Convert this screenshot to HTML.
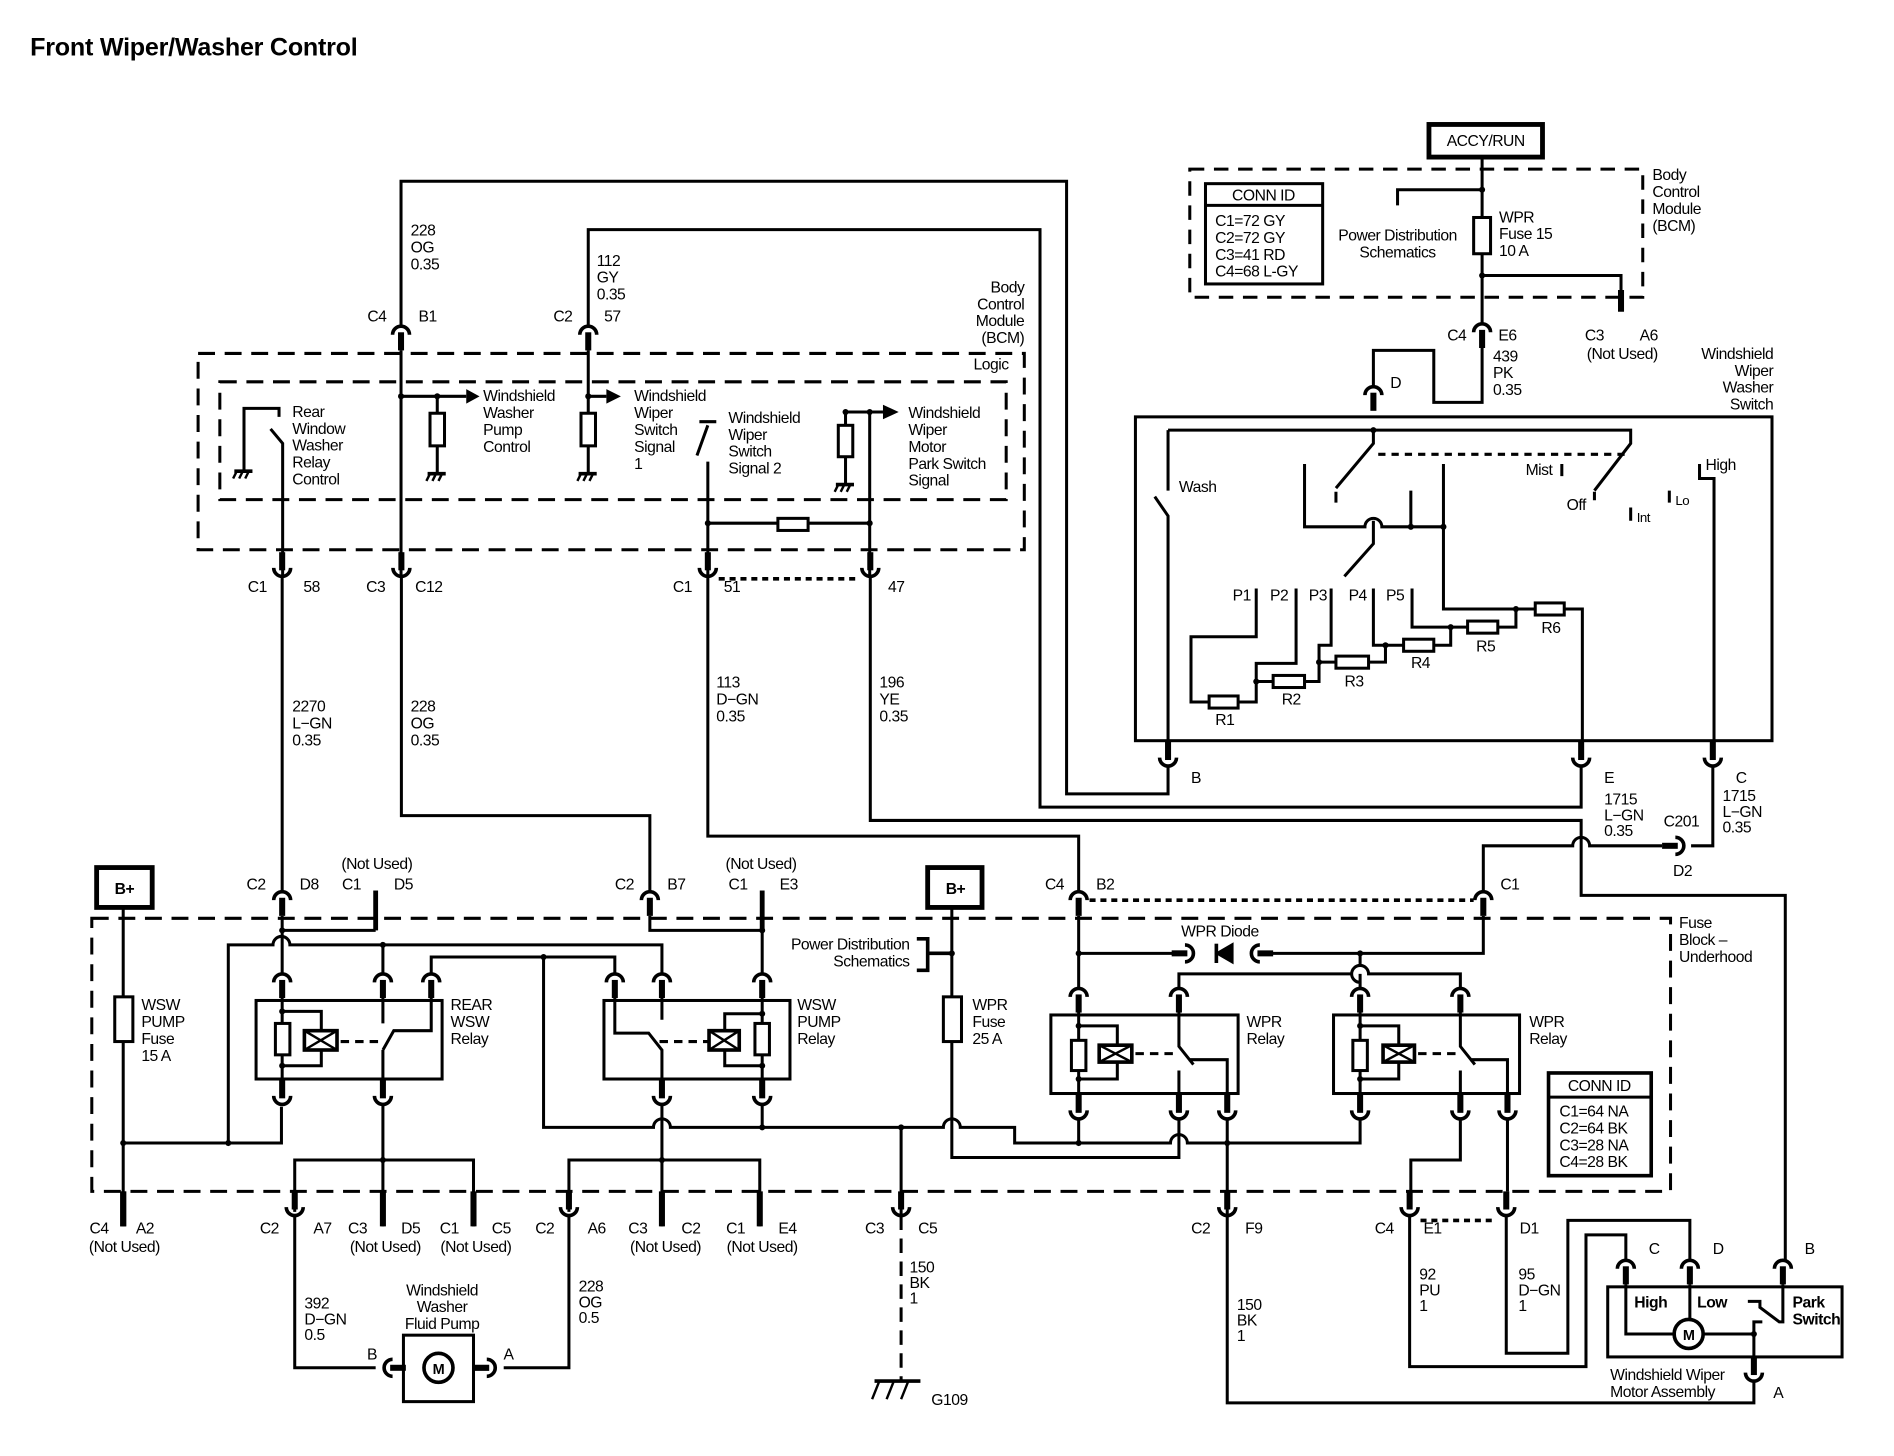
<!DOCTYPE html>
<html><head><meta charset="utf-8"><style>
html,body{margin:0;padding:0;background:#fff;}
svg{display:block;}
text{font-family:"Liberation Sans",sans-serif;font-size:13px;fill:#000;letter-spacing:-0.4px;}
.m{text-anchor:middle}.e{text-anchor:end}
</style></head><body>
<svg width="1894" height="1456" viewBox="0 0 1568 1205" preserveAspectRatio="none" xmlns="http://www.w3.org/2000/svg">
<defs>
<g id="cap" fill="none" stroke="#000"><path d="M-7,7 A7,7 0 0 1 7,7" stroke-width="3"/><line x1="0" y1="5" x2="0" y2="20" stroke-width="5"/></g>
<g id="cup" fill="none" stroke="#000"><path d="M-7,-7 A7,7 0 0 0 7,-7" stroke-width="3"/><line x1="0" y1="-5" x2="0" y2="-20" stroke-width="5"/></g>
<g id="gnd" fill="none" stroke="#000" stroke-width="2"><line x1="-8" y1="0" x2="7" y2="0" stroke-width="3"/><line x1="-6" y1="0" x2="-9" y2="6"/><line x1="-1" y1="0" x2="-4" y2="6"/><line x1="4" y1="0" x2="1" y2="6"/></g>
<g id="lft" fill="none" stroke="#000"><path d="M7,-7 A7,7 0 0 0 7,7" stroke-width="3"/><line x1="5" y1="0" x2="18" y2="0" stroke-width="5"/></g>
<g id="rgt" fill="none" stroke="#000"><path d="M-7,-7 A7,7 0 0 1 -7,7" stroke-width="3"/><line x1="-5" y1="0" x2="-18" y2="0" stroke-width="5"/></g>
</defs>
<rect width="1568" height="1205" fill="#fff"/>
<text x="25" y="46" style="font-size:20.8px;font-weight:bold;letter-spacing:-0.2px">Front Wiper/Washer Control</text>

<g fill="none" stroke="#000" stroke-width="2.5">
<rect x="1183" y="103" width="94" height="27" stroke-width="4"/>
<rect x="985" y="140" width="375" height="106" stroke-dasharray="12 8" stroke-width="2.5"/>
<rect x="998" y="152" width="97" height="83" stroke-width="2.5"/>
<line x1="998" y1="170" x2="1095" y2="170"/>
<path d="M1227,130 V268 M1157,170 V157 H1227 M1227,228 H1342 V243"/>
<line x1="1342" y1="240" x2="1342" y2="258" stroke-width="5"/>
<rect x="1220" y="180" width="14" height="30" fill="#fff"/>
<use href="#cap" x="1227" y="268"/>
<path d="M1227,288 V333 H1187 V290 H1137 V320"/>
<use href="#cap" x="1137" y="320"/>

<rect x="940" y="345" width="527" height="268"/>
<path d="M967,356 V406 M956,411 L967,427 V614"/>
<path d="M967,356 H1350 V367 L1320,406 M1320,407 V414"/>
<path d="M1137,356 V367 L1106,404 M1106,407 V416"/>
<line x1="1141" y1="376" x2="1345" y2="376" stroke-dasharray="6 5"/>
<path d="M1293,384 V394 M1350,420 V431 M1382,406 V416 M1407,384 V396 H1419 V614"/>
<path d="M1080,384 V436 H1130 A7,7 0 0 1 1144,436 H1195 M1168,406 V436 M1195,384 V504 H1271 M1295,504 H1310 V614"/>
<path d="M1137,431 V450 L1113,477"/>
<path d="M1040,487 V527 H986 V581 H1001 M1025,581 H1040 V549 H1073 V487 M1040,564 H1054 M1080,564 H1092 V534 H1102 V487 M1092,548 H1106 M1133,548 H1147 V534 H1137 V487 M1147,534 H1162 M1187,534 H1201 V519 H1169 V487 M1201,519 H1215 M1240,519 H1255 V504"/>
<rect x="1001" y="576" width="24" height="10" fill="#fff"/>
<rect x="1054" y="559" width="26" height="10" fill="#fff"/>
<rect x="1106" y="543" width="27" height="10" fill="#fff"/>
<rect x="1162" y="529" width="25" height="10" fill="#fff"/>
<rect x="1215" y="514" width="25" height="10" fill="#fff"/>
<rect x="1271" y="499" width="24" height="10" fill="#fff"/>
<use href="#cup" x="967" y="634"/><use href="#cup" x="1309" y="634"/><use href="#cup" x="1418" y="634"/>

<path d="M332,270 V150 H883 V657 H967 V634"/>
<path d="M487,270 V190 H861 V668 H1309 V634"/>
<path d="M1418,634 V700 H1400"/>
<use href="#rgt" x="1394" y="700"/>
<path d="M1376,700 H1316 A7,7 0 0 0 1302,700 H1228 V738"/>
<path d="M720.5,476 V679 H1309 V741 H1478 V1043"/>
<path d="M586,476 V692 H893 V738"/>
<path d="M332.3,476 V675 H538 V738"/>
<path d="M233.6,476 V738"/>

<rect x="164" y="292.5" width="684" height="162.5" stroke-dasharray="14 8"/>
<rect x="182" y="316" width="651" height="97.5" stroke-dasharray="14 8"/>
<use href="#cap" x="332" y="270"/><use href="#cap" x="487" y="270"/>
<path d="M332,290 V476 M487,290 V392 M332,328 H386 M362,328 V392 M487,328 H502"/>
<path d="M202,389 V338 H231 V345 M224,355 L234,367 V476"/>
<path d="M586,476 V382 M577,377 L586,352 M579,349 H593"/>
<path d="M586,433 H720 M720,476 V341 M700,341 H731 M700,341 V401"/>
<rect x="356" y="342" width="12" height="27" fill="#fff"/>
<rect x="481" y="342" width="12" height="27" fill="#fff"/>
<rect x="694" y="352" width="12" height="26" fill="#fff"/>
<rect x="644" y="429" width="25" height="10" fill="#fff"/>
<use href="#gnd" x="202" y="390"/><use href="#gnd" x="362" y="392"/><use href="#gnd" x="487" y="392"/><use href="#gnd" x="700" y="401"/>
<use href="#cup" x="233.6" y="477"/><use href="#cup" x="332.3" y="477"/><use href="#cup" x="586" y="477"/><use href="#cup" x="720.5" y="477"/>
<line x1="595" y1="479" x2="712" y2="479" stroke-width="3" stroke-dasharray="5 4"/>

<rect x="76" y="760" width="1307" height="226" stroke-dasharray="14 8"/>
<rect x="80" y="718" width="46" height="33" stroke-width="4"/>
<rect x="768" y="718" width="45" height="33" stroke-width="4"/>
<use href="#cap" x="233.6" y="738"/><use href="#cap" x="538" y="738"/><use href="#cap" x="893" y="738"/><use href="#cap" x="1228" y="738"/>
<line x1="311" y1="737" x2="311" y2="770" stroke-width="4"/>
<line x1="631" y1="737" x2="631" y2="770" stroke-width="4"/>
<line x1="902" y1="745" x2="1220" y2="745" stroke-width="3" stroke-dasharray="5 4"/>
<path d="M102,751 V1015 M102,946 H233 V916 M189,946 V782 H226 A7,7 0 0 1 240,782 H548 V806"/>
<line x1="102" y1="986" x2="102" y2="1015" stroke-width="5"/>
<rect x="95" y="825" width="15" height="37" fill="#fff"/>
<path d="M233.6,758 V806 M233.6,770 H311 M317,782 V806 M357,806 V792 H509 V806 M450,792 V933 H541 A7,7 0 0 1 555,933 H781 A7,7 0 0 1 795,933 H840 V946 H969 A7,7 0 0 1 983,946 H1126 V926"/>
<path d="M538,758 V770 H631 V806 M631,758 V770"/>
<rect x="212" y="828" width="154" height="65"/>
<use href="#cap" x="233.6" y="806"/><use href="#cap" x="317" y="806"/><use href="#cap" x="357" y="806"/>
<path d="M233.6,826 V893 M233.6,837 H266 V853 M266,869 V882 H233.6"/>
<rect x="228" y="847" width="12" height="26" fill="#fff"/>
<rect x="252" y="853" width="27" height="16" stroke-width="3" fill="#fff"/>
<path d="M252,853 L279,869 M279,853 L252,869" stroke-width="2"/>
<line x1="282" y1="862" x2="316" y2="862" stroke-dasharray="7 5"/>
<path d="M317,826 V847 M317,869 L326,853 H357 V826 M317,869 V893"/>
<use href="#cup" x="233.6" y="914"/><use href="#cup" x="317" y="914"/>
<path d="M317,914 V1015 M244,1003 V960 H392 V1015"/>
<rect x="500" y="828" width="154" height="65"/>
<use href="#cap" x="509" y="806"/><use href="#cap" x="548" y="806"/><use href="#cap" x="631" y="806"/>
<path d="M509,826 V855 H537 L548,869 V893 M548,826 V844"/>
<line x1="546" y1="862" x2="586" y2="862" stroke-dasharray="7 5"/>
<path d="M631,826 V893 M631,839 H600 V853 M600,869 V882 H631"/>
<rect x="625" y="847" width="12" height="26" fill="#fff"/>
<rect x="587" y="853" width="25" height="16" stroke-width="3" fill="#fff"/>
<path d="M587,853 L612,869 M612,853 L587,869" stroke-width="2"/>
<use href="#cup" x="548" y="914"/><use href="#cup" x="631" y="914"/>
<path d="M548,914 V1015 M631,914 V933 M471,1003 V960 H629 V1015"/>
<line x1="317" y1="986" x2="317" y2="1015" stroke-width="5"/>
<line x1="392" y1="986" x2="392" y2="1015" stroke-width="5"/>
<line x1="548" y1="986" x2="548" y2="1015" stroke-width="5"/>
<line x1="629" y1="986" x2="629" y2="1015" stroke-width="5"/>
<use href="#cup" x="244" y="1006"/><use href="#cup" x="471" y="1006"/><use href="#cup" x="746" y="1006"/><use href="#cup" x="1016" y="1006"/><use href="#cup" x="1167" y="1006"/><use href="#cup" x="1247" y="1006"/>
<line x1="1176" y1="1010" x2="1238" y2="1010" stroke-width="3" stroke-dasharray="5 4"/>
<path d="M788,751 V958 H976 V926"/>
<rect x="781" y="825" width="15" height="37" fill="#fff"/>
<path d="M759,777 H768 V803 H759 M768,789 H788" stroke-width="3"/>
<path d="M746,933 V1006"/>
<path d="M893,758 V818 M893,789 H979 M1052,789 H1228 V758 M1126,789 V799 A7,7 0 0 0 1126,813 M976,818 V806 H1119 A7,7 0 0 1 1133,806 H1209 V818 M1126,806 V818"/>
<use href="#rgt" x="988" y="789"/><use href="#lft" x="1036" y="789"/>
<line x1="1007" y1="781" x2="1007" y2="797" stroke-width="3"/>
<path d="M1008,789 L1020,782 L1020,796 Z" fill="#000"/>
<rect x="870" y="840" width="155" height="65"/>
<use href="#cap" x="893" y="818"/><use href="#cap" x="976" y="818"/>
<path d="M893,838 V905 M893,849 H925 V865 M925,879 V893 H893"/>
<rect x="887" y="861" width="12" height="25" fill="#fff"/>
<rect x="910" y="865" width="27" height="14" stroke-width="3" fill="#fff"/>
<path d="M910,865 L937,879 M937,865 L910,879" stroke-width="2"/>
<line x1="940" y1="872" x2="974" y2="872" stroke-dasharray="7 5"/>
<path d="M976,838 V866 L988,881 M976,886 V905 M984,877 H1016 V905"/>
<use href="#cup" x="893" y="926"/><use href="#cup" x="976" y="926"/><use href="#cup" x="1016" y="926"/>
<path d="M893,926 V946 M1016,926 V1006"/>
<rect x="1104" y="840" width="154" height="65"/>
<use href="#cap" x="1126" y="818"/><use href="#cap" x="1209" y="818"/>
<path d="M1126,838 V905 M1126,849 H1158 V865 M1158,879 V893 H1126"/>
<rect x="1120" y="861" width="12" height="25" fill="#fff"/>
<rect x="1145" y="865" width="26" height="14" stroke-width="3" fill="#fff"/>
<path d="M1145,865 L1171,879 M1171,865 L1145,879" stroke-width="2"/>
<line x1="1174" y1="872" x2="1207" y2="872" stroke-dasharray="7 5"/>
<path d="M1209,838 V866 L1221,881 M1209,886 V905 M1217,877 H1248 V905"/>
<use href="#cup" x="1126" y="926"/><use href="#cup" x="1209" y="926"/><use href="#cup" x="1248" y="926"/>
<path d="M1209,926 V960 H1168 V986 M1248,926 V986"/>
<rect x="1282" y="888" width="85" height="85" stroke-width="3"/>
<line x1="1282" y1="908" x2="1367" y2="908"/>
<path d="M1016,1006 V1161 H1452 V1143"/>
<path d="M1167,1006 V1131 H1313 V1022 H1346 V1043 M1247,1006 V1120 H1298 V1010 H1399 V1043"/>
<rect x="1331" y="1065" width="194" height="58"/>
<use href="#cap" x="1346" y="1043"/><use href="#cap" x="1399" y="1043"/><use href="#cap" x="1476" y="1043"/>
<path d="M1346,1063 V1104 H1386 M1399,1063 V1092 M1410,1104 H1452 V1123 M1452,1104 V1094 H1459 M1447,1077 H1457 V1082 L1473,1094 H1476 V1063"/>
<circle cx="1398" cy="1104" r="12" stroke-width="3" fill="#fff"/>
<use href="#cup" x="1452" y="1143"/>
<path d="M244,1006 V1132 H311 M417,1132 H471 V1006"/>
<use href="#lft" x="318" y="1132"/><use href="#rgt" x="410" y="1132"/>
<rect x="334" y="1105" width="58" height="55"/>
<circle cx="363" cy="1132" r="12" stroke-width="3" fill="#fff"/>
<line x1="746" y1="1006" x2="746" y2="1142" stroke-dasharray="12 7"/>
<line x1="724" y1="1143" x2="762" y2="1143" stroke-width="3"/>
<path d="M728,1143 L722,1158 M740,1143 L734,1158 M752,1143 L746,1158" stroke-width="2"/>
<line x1="102" y1="986" x2="102" y2="1015" stroke-width="5"/>
</g>
<g fill="#000"><path d="M386,322 L397,328 L386,334 Z"/><path d="M502,322 L514,328 L502,334 Z"/><path d="M731,335 L744,341 L731,347 Z"/></g>
<g fill="#000">
<circle cx="1227" cy="157" r="2.5"/><circle cx="1227" cy="228" r="2.5"/><circle cx="1137" cy="356" r="2.5"/>
<circle cx="1168" cy="436" r="2.5"/><circle cx="1195" cy="436" r="2.5"/><circle cx="1255" cy="504" r="2.5"/><circle cx="1201" cy="519" r="2.5"/><circle cx="1147" cy="534" r="2.5"/><circle cx="1092" cy="548" r="2.5"/><circle cx="1040" cy="564" r="2.5"/>
<circle cx="332" cy="328" r="2.5"/><circle cx="362" cy="328" r="2.5"/><circle cx="487" cy="328" r="2.5"/><circle cx="586" cy="433" r="2.5"/><circle cx="720" cy="433" r="2.5"/><circle cx="720" cy="341" r="2.5"/><circle cx="700" cy="341" r="2.5"/>
<circle cx="233.6" cy="770" r="2.5"/><circle cx="631" cy="770" r="2.5"/><circle cx="317" cy="782" r="2.5"/><circle cx="450" cy="792" r="2.5"/><circle cx="102" cy="946" r="2.5"/><circle cx="189" cy="946" r="2.5"/>
<circle cx="233.6" cy="837" r="2.5"/><circle cx="233.6" cy="882" r="2.5"/><circle cx="631" cy="839" r="2.5"/><circle cx="631" cy="882" r="2.5"/>
<circle cx="317" cy="960" r="2.5"/><circle cx="548" cy="960" r="2.5"/><circle cx="631" cy="933" r="2.5"/><circle cx="746" cy="933" r="2.5"/><circle cx="788" cy="789" r="2.5"/>
<circle cx="893" cy="789" r="2.5"/><circle cx="1126" cy="789" r="2.5"/><circle cx="893" cy="849" r="2.5"/><circle cx="893" cy="893" r="2.5"/><circle cx="1126" cy="849" r="2.5"/><circle cx="1126" cy="893" r="2.5"/>
<circle cx="893" cy="946" r="2.5"/><circle cx="1016" cy="946" r="2.5"/><circle cx="1452" cy="1104" r="2.5"/>
</g>

<text x="1230" y="121" class="m">ACCY/RUN</text>
<text x="1046" y="166" class="m">CONN ID</text>
<text x="1006" y="187">C1=72 GY<tspan x="1006" dy="14">C2=72 GY</tspan><tspan x="1006" dy="14">C3=41 RD</tspan><tspan x="1006" dy="14">C4=68 L-GY</tspan></text>
<text x="1157" y="199" class="m">Power Distribution<tspan x="1157" dy="14">Schematics</tspan></text>
<text x="1241" y="184">WPR<tspan x="1241" dy="14">Fuse 15</tspan><tspan x="1241" dy="14">10 A</tspan></text>
<text x="1368" y="149">Body<tspan x="1368" dy="14">Control</tspan><tspan x="1368" dy="14">Module</tspan><tspan x="1368" dy="14">(BCM)</tspan></text>
<text x="1206" y="282" class="m">C4</text><text x="1248" y="282" class="m">E6</text>
<text x="1320" y="282" class="m">C3</text><text x="1365" y="282" class="m">A6</text><text x="1343" y="297" class="m">(Not Used)</text>
<text x="1236" y="299">439<tspan x="1236" dy="14">PK</tspan><tspan x="1236" dy="14">0.35</tspan></text>
<text x="1151" y="321">D</text>
<text x="1468" y="297" class="e">Windshield<tspan x="1468" dy="14">Wiper</tspan><tspan x="1468" dy="14">Washer</tspan><tspan x="1468" dy="14">Switch</tspan></text>
<text x="976" y="407">Wash</text>
<text x="1263" y="393">Mist</text><text x="1297" y="422">Off</text>
<text x="1355" y="432" style="font-size:11px">Int</text><text x="1387" y="418" style="font-size:11px">Lo</text>
<text x="1412" y="389">High</text>
<text x="1028" y="497" class="m">P1</text><text x="1059" y="497" class="m">P2</text><text x="1091" y="497" class="m">P3</text><text x="1124" y="497" class="m">P4</text><text x="1155" y="497" class="m">P5</text>
<text x="1014" y="600" class="m">R1</text><text x="1069" y="583" class="m">R2</text><text x="1121" y="568" class="m">R3</text><text x="1176" y="553" class="m">R4</text><text x="1230" y="539" class="m">R5</text><text x="1284" y="524" class="m">R6</text>
<text x="986" y="648">B</text><text x="1328" y="648">E</text><text x="1437" y="648">C</text>
<text x="1328" y="666">1715<tspan x="1328" dy="13">L−GN</tspan><tspan x="1328" dy="13">0.35</tspan></text>
<text x="1426" y="663">1715<tspan x="1426" dy="13">L−GN</tspan><tspan x="1426" dy="13">0.35</tspan></text>
<text x="1392" y="684" class="m">C201</text><text x="1393" y="725" class="m">D2</text>

<text x="340" y="195">228<tspan x="340" dy="14">OG</tspan><tspan x="340" dy="14">0.35</tspan></text>
<text x="494" y="220">112<tspan x="494" dy="14">GY</tspan><tspan x="494" dy="14">0.35</tspan></text>
<text x="312" y="266" class="m">C4</text><text x="354" y="266" class="m">B1</text>
<text x="466" y="266" class="m">C2</text><text x="507" y="266" class="m">57</text>
<text x="848" y="242" class="e">Body<tspan x="848" dy="14">Control</tspan><tspan x="848" dy="14">Module</tspan><tspan x="848" dy="14">(BCM)</tspan></text>
<text x="835" y="306" class="e">Logic</text>
<text x="242" y="345">Rear<tspan x="242" dy="14">Window</tspan><tspan x="242" dy="14">Washer</tspan><tspan x="242" dy="14">Relay</tspan><tspan x="242" dy="14">Control</tspan></text>
<text x="400" y="332">Windshield<tspan x="400" dy="14">Washer</tspan><tspan x="400" dy="14">Pump</tspan><tspan x="400" dy="14">Control</tspan></text>
<text x="525" y="332">Windshield<tspan x="525" dy="14">Wiper</tspan><tspan x="525" dy="14">Switch</tspan><tspan x="525" dy="14">Signal</tspan><tspan x="525" dy="14">1</tspan></text>
<text x="603" y="350">Windshield<tspan x="603" dy="14">Wiper</tspan><tspan x="603" dy="14">Switch</tspan><tspan x="603" dy="14">Signal 2</tspan></text>
<text x="752" y="346">Windshield<tspan x="752" dy="14">Wiper</tspan><tspan x="752" dy="14">Motor</tspan><tspan x="752" dy="14">Park Switch</tspan><tspan x="752" dy="14">Signal</tspan></text>
<text x="213" y="490" class="m">C1</text><text x="258" y="490" class="m">58</text>
<text x="311" y="490" class="m">C3</text><text x="355" y="490" class="m">C12</text>
<text x="565" y="490" class="m">C1</text><text x="606" y="490" class="m">51</text><text x="742" y="490" class="m">47</text>
<text x="242" y="589">2270<tspan x="242" dy="14">L−GN</tspan><tspan x="242" dy="14">0.35</tspan></text>
<text x="340" y="589">228<tspan x="340" dy="14">OG</tspan><tspan x="340" dy="14">0.35</tspan></text>
<text x="593" y="569">113<tspan x="593" dy="14">D−GN</tspan><tspan x="593" dy="14">0.35</tspan></text>
<text x="728" y="569">196<tspan x="728" dy="14">YE</tspan><tspan x="728" dy="14">0.35</tspan></text>

<text x="103" y="740" class="m" style="font-weight:bold">B+</text>
<text x="791" y="740" class="m" style="font-weight:bold">B+</text>
<text x="312" y="719" class="m">(Not Used)</text><text x="630" y="719" class="m">(Not Used)</text>
<text x="212" y="736" class="m">C2</text><text x="256" y="736" class="m">D8</text><text x="291" y="736" class="m">C1</text><text x="334" y="736" class="m">D5</text>
<text x="517" y="736" class="m">C2</text><text x="560" y="736" class="m">B7</text><text x="611" y="736" class="m">C1</text><text x="653" y="736" class="m">E3</text>
<text x="873" y="736" class="m">C4</text><text x="915" y="736" class="m">B2</text><text x="1250" y="736" class="m">C1</text>
<text x="1390" y="768">Fuse<tspan x="1390" dy="14">Block –</tspan><tspan x="1390" dy="14">Underhood</tspan></text>
<text x="1010" y="775" class="m">WPR Diode</text>
<text x="753" y="786" class="e">Power Distribution<tspan x="753" dy="14">Schematics</tspan></text>
<text x="117" y="836">WSW<tspan x="117" dy="14">PUMP</tspan><tspan x="117" dy="14">Fuse</tspan><tspan x="117" dy="14">15 A</tspan></text>
<text x="373" y="836">REAR<tspan x="373" dy="14">WSW</tspan><tspan x="373" dy="14">Relay</tspan></text>
<text x="660" y="836">WSW<tspan x="660" dy="14">PUMP</tspan><tspan x="660" dy="14">Relay</tspan></text>
<text x="805" y="836">WPR<tspan x="805" dy="14">Fuse</tspan><tspan x="805" dy="14">25 A</tspan></text>
<text x="1032" y="850">WPR<tspan x="1032" dy="14">Relay</tspan></text>
<text x="1266" y="850">WPR<tspan x="1266" dy="14">Relay</tspan></text>
<text x="1324" y="903" class="m">CONN ID</text>
<text x="1291" y="924">C1=64 NA<tspan x="1291" dy="14">C2=64 BK</tspan><tspan x="1291" dy="14">C3=28 NA</tspan><tspan x="1291" dy="14">C4=28 BK</tspan></text>

<text x="82" y="1021" class="m">C4</text><text x="120" y="1021" class="m">A2</text><text x="103" y="1036" class="m">(Not Used)</text>
<text x="223" y="1021" class="m">C2</text><text x="267" y="1021" class="m">A7</text>
<text x="296" y="1021" class="m">C3</text><text x="340" y="1021" class="m">D5</text><text x="319" y="1036" class="m">(Not Used)</text>
<text x="372" y="1021" class="m">C1</text><text x="415" y="1021" class="m">C5</text><text x="394" y="1036" class="m">(Not Used)</text>
<text x="451" y="1021" class="m">C2</text><text x="494" y="1021" class="m">A6</text>
<text x="528" y="1021" class="m">C3</text><text x="572" y="1021" class="m">C2</text><text x="551" y="1036" class="m">(Not Used)</text>
<text x="609" y="1021" class="m">C1</text><text x="652" y="1021" class="m">E4</text><text x="631" y="1036" class="m">(Not Used)</text>
<text x="724" y="1021" class="m">C3</text><text x="768" y="1021" class="m">C5</text>
<text x="994" y="1021" class="m">C2</text><text x="1038" y="1021" class="m">F9</text>
<text x="1146" y="1021" class="m">C4</text><text x="1186" y="1021" class="m">E1</text><text x="1266" y="1021" class="m">D1</text>
<text x="753" y="1053">150<tspan x="753" dy="13">BK</tspan><tspan x="753" dy="13">1</tspan></text>
<text x="1024" y="1084">150<tspan x="1024" dy="13">BK</tspan><tspan x="1024" dy="13">1</tspan></text>
<text x="1175" y="1059">92<tspan x="1175" dy="13">PU</tspan><tspan x="1175" dy="13">1</tspan></text>
<text x="1257" y="1059">95<tspan x="1257" dy="13">D−GN</tspan><tspan x="1257" dy="13">1</tspan></text>
<text x="252" y="1083">392<tspan x="252" dy="13">D−GN</tspan><tspan x="252" dy="13">0.5</tspan></text>
<text x="479" y="1069">228<tspan x="479" dy="13">OG</tspan><tspan x="479" dy="13">0.5</tspan></text>
<text x="366" y="1072" class="m">Windshield<tspan x="366" dy="14">Washer</tspan><tspan x="366" dy="14">Fluid Pump</tspan></text>
<text x="308" y="1125" class="m">B</text><text x="421" y="1125" class="m">A</text>
<text x="363" y="1137" class="m" style="font-weight:bold;font-size:12px">M</text>
<text x="771" y="1163">G109</text>
<text x="1365" y="1038">C</text><text x="1418" y="1038">D</text><text x="1494" y="1038">B</text>
<text x="1353" y="1082" style="font-weight:bold">High</text><text x="1405" y="1082" style="font-weight:bold">Low</text>
<text x="1484" y="1082" style="font-weight:bold">Park<tspan x="1484" dy="14">Switch</tspan></text>
<text x="1398" y="1109" class="m" style="font-weight:bold;font-size:12px">M</text>
<text x="1333" y="1142">Windshield Wiper<tspan x="1333" dy="14">Motor Assembly</tspan></text>
<text x="1468" y="1157">A</text>
</svg>
</body></html>
